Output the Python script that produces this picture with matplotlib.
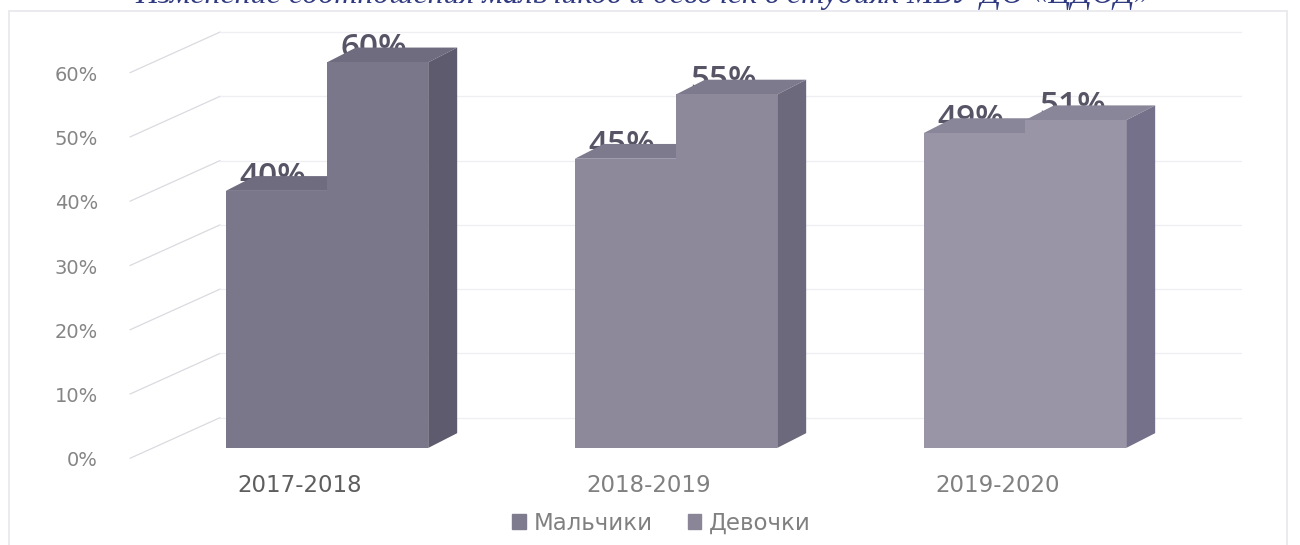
import matplotlib.pyplot as plt
from matplotlib.patches import Polygon, Patch

years = ['2017-2018', '2018-2019', '2019-2020']
boys = [40, 45, 49]
girls = [60, 55, 51]
series = ['Мальчики', 'Девочки']
yticks = [0, 10, 20, 30, 40, 50, 60]

# scanned colours, a bit darker for the first year
front = ['#7b778a', '#8d899b', '#9995a6']
side = ['#5f5b6e', '#6d697c', '#75718a']
top = ['#706c80', '#7e7a8e', '#8a8699']

W = 0.29      # bar width (category units)
DX = 0.083    # depth offset x
DY = 2.3      # depth offset y (%)

fig = plt.figure(figsize=(13, 5.45), dpi=100)
ax = fig.add_axes([0, 0, 1, 1])
ax.set_xlim(-0.937, 2.788)
ax.set_ylim(-15.1, 69.7)
ax.axis('off')

# faint frame of the scanned chart area
ax.add_patch(plt.Rectangle((-0.91, -16), 3.66, 84, fill=False,
                           ec='#e6e6ec', lw=1.2, zorder=0))

# walls: diagonal lines on the side wall, horizontal on the back wall
for t in yticks:
    ax.plot([-0.564, -0.307], [t - 1.6, t + 4.7], color='#dadae0', lw=0.9, zorder=1)
    ax.plot([-0.307, 2.62], [t + 4.7, t + 4.7], color='#efeff3', lw=0.9, zorder=1)
    ax.text(-0.656, t - 2.0, f'{t}%', ha='right', va='center', fontsize=14,
            color='#858585', family='DejaVu Sans')

xs = list(range(len(years)))
for i, x in enumerate(xs):
    for j, vals in enumerate([boys, girls]):
        v = vals[i]
        x0 = x - W if j == 0 else x
        x1 = x0 + W
        z = 3 + j * 2
        ax.add_patch(Polygon([(x0, v), (x0 + DX, v + DY), (x1 + DX, v + DY), (x1, v)],
                             closed=True, fc=top[i], ec='none', zorder=z))
        ax.add_patch(Polygon([(x1, 0), (x1 + DX, DY), (x1 + DX, v + DY), (x1, v)],
                             closed=True, fc=side[i], ec='none', zorder=z))
        ax.bar(x0, v, W, bottom=0, align='edge', color=front[i], zorder=z + 0.5)
        ax.text(x0 + W / 2 - 0.01, v + 0.8, f'{v}%', ha='center', va='baseline',
                fontsize=24, fontweight='semibold', color='#575466',
                family='Open Sans', zorder=z - 0.5)
    ax.text(x - 0.078, -5.9, years[i], ha='center', va='center', fontsize=16.5,
            color='#5e5e5e' if i == 0 else '#808080', family='DejaVu Sans')

# cut-off title at the top of the scan
fig.text(0.495, 1.008, 'Изменение соотношения мальчиков и девочек в студиях МБУ ДО «ЦДОД»',
         ha='center', va='center', fontsize=23, style='italic', color='#2f3a80',
         family='Liberation Serif')

handles = [Patch(color='#7f7b8e', label=series[0]), Patch(color='#8a8698', label=series[1])]
fig.legend(handles=handles, loc='center', bbox_to_anchor=(0.509, 0.04), ncol=2,
           frameon=False, handlelength=0.6, handleheight=0.6,
           columnspacing=1.5, handletextpad=0.35, labelcolor='#808080',
           prop={'family': 'DejaVu Sans', 'size': 16.5})

fig.savefig('out.png', dpi=100, facecolor='white')
